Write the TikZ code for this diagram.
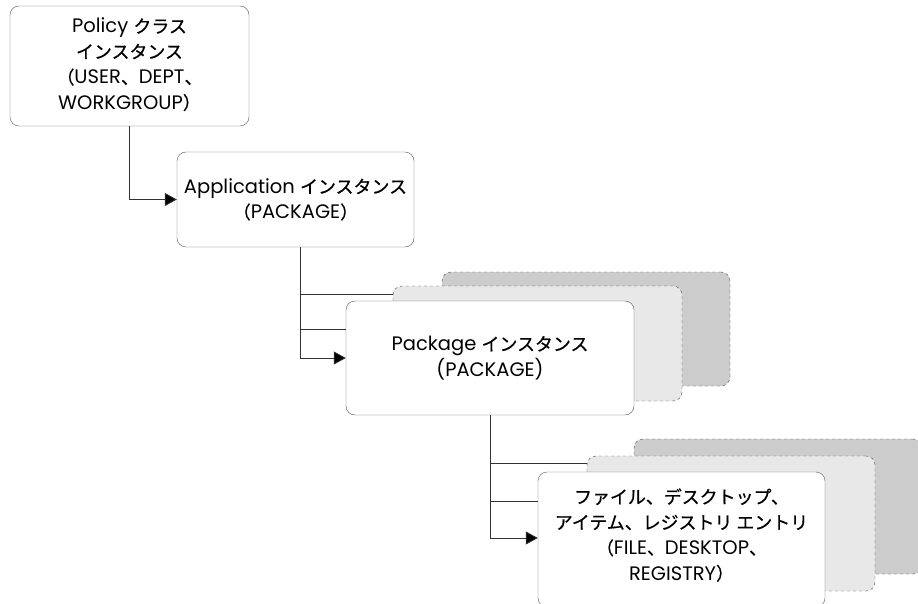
\documentclass[tikz,border=0pt]{standalone}
\usepackage{fontspec}
\setmainfont{Poppins}
\newfontfamily\jp[FakeBold=0.6, Scale=0.92]{Noto Sans CJK JP}
\usetikzlibrary{arrows.meta, positioning}

\tikzset{
  inst/.style={draw=black!65, fill=white, rounded corners=9pt, inner sep=0pt,
    align=center, font=\fontsize{19.5}{25.5}\selectfont},
  copylight/.style={draw=black!70, dashed, fill=black!9, rounded corners=9pt},
  copydark/.style={draw=black!70, dashed, fill=black!20, rounded corners=9pt},
  link/.style={draw=black!80, line width=0.8pt},
  linkarrow/.style={link, -{Triangle[length=12pt,width=13pt,fill=black]}},
}

\begin{document}
\begin{tikzpicture}[x=1pt, y=-1pt]
\clip (0,0) rectangle (918,604);
\fill[white] (0,0) rectangle (918,604);

% top two levels
\node[inst, minimum width=239pt, minimum height=120pt] (policy) at (129.5,66)
  {Policy {\jp クラス}\\{\jp インスタンス}\\{\jp （}USER{\jp 、}DEPT{\jp 、}\\WORKGROUP{\jp ）}\\[-21pt]{}};
\node[inst, minimum width=237pt, minimum height=95pt] (app) at (295.5,199.5)
  {Application {\jp インスタンス}\\{\jp （}PACKAGE{\jp ）}};

% package instances (stacked)
\node[copydark, minimum width=288pt, minimum height=114pt] (pkgC) at (586,329) {};
\node[copylight, minimum width=289pt, minimum height=115pt] (pkgB) at (537.5,343.5) {};
\node[inst, minimum width=288pt, minimum height=114pt] (pkg) at (490,358)
  {Package {\jp インスタンス}\\(PACKAGE)};

% file / desktop / registry items (stacked)
\node[copydark, minimum width=288pt, minimum height=135pt] (itemC) at (778,506.5) {};
\node[copylight, minimum width=288pt, minimum height=135pt] (itemB) at (731,523.5) {};
\node[inst, minimum width=287pt, minimum height=135pt] (item) at (681.5,539.5)
  {{\jp ファイル、デスクトップ、}\\{\jp アイテム、レジストリ エントリ}\\{\jp （}FILE{\jp 、}DESKTOP{\jp 、}\\REGISTRY{\jp ）}\\[-15pt]{}};

% connectors
\draw[linkarrow] (policy.south) |- (app.west);

\draw[link] ([xshift=4.5pt]app.south) |- ([yshift=49.5pt]pkgB.west);
\draw[link] ([xshift=4.5pt]app.south) |- ([yshift=29pt]pkg.west);
\draw[linkarrow] ([xshift=4.5pt]app.south) |- (pkg.west);

\draw[link] (pkg.south) |- ([yshift=60.5pt]itemB.west);
\draw[link] (pkg.south) |- ([yshift=38.5pt]item.west);
\draw[linkarrow] ([yshift=0.5pt]pkg.south) |- ([yshift=1.5pt]item.west);
\end{tikzpicture}
\end{document}
